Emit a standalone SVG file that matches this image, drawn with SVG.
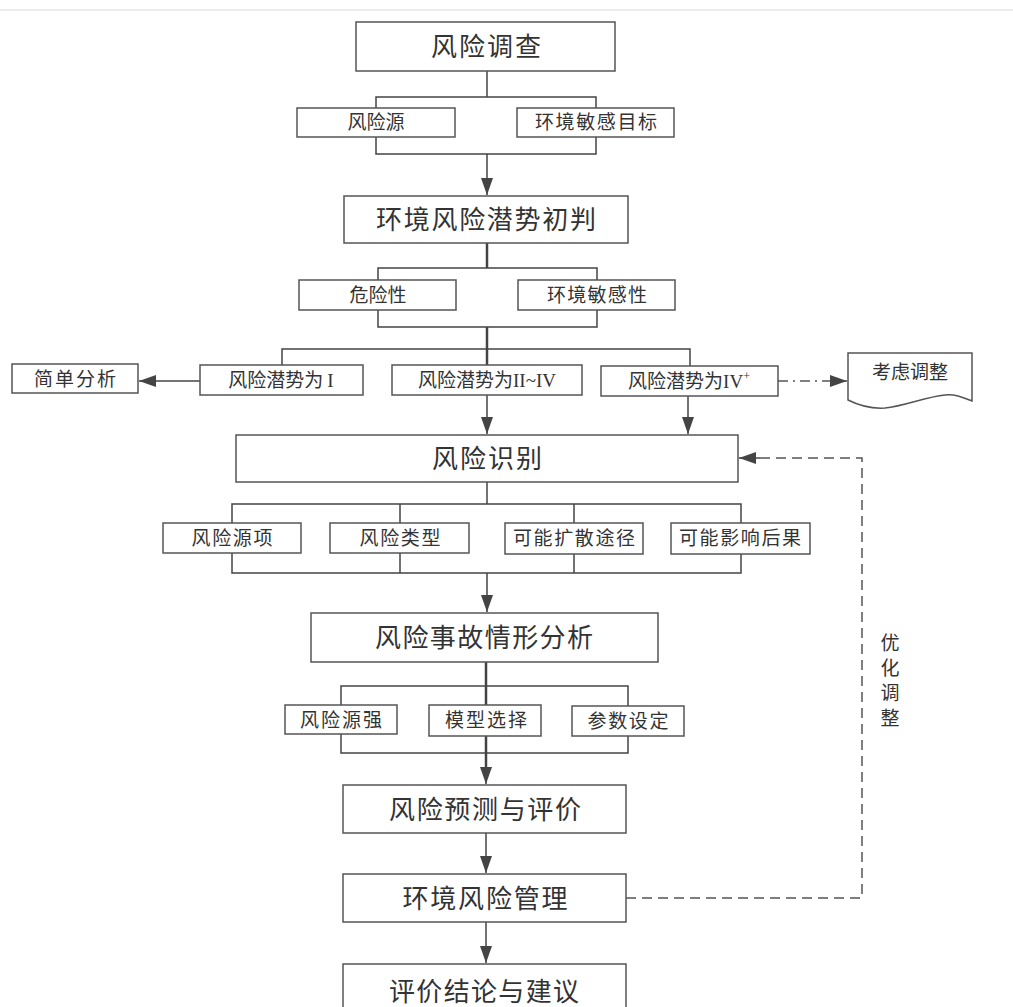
<svg xmlns="http://www.w3.org/2000/svg" width="1013" height="1007" viewBox="0 0 1013 1007">
<style>
.box{fill:#fff;stroke:#555;stroke-width:1.5}
.t{font-family:"Noto Sans CJK SC","Noto Sans",sans-serif;fill:#333;text-anchor:middle}
.s{font-size:19px}
.m{font-size:26px}
.r{font-family:"Liberation Serif",serif}
.ln{fill:none;stroke:#444;stroke-width:1.5}
.tk{fill:none;stroke:#444;stroke-width:2.5}
.dash{fill:none;stroke:#555;stroke-width:1.5;stroke-dasharray:10 6}
.dd{fill:none;stroke:#555;stroke-width:1.3;stroke-dasharray:10 5 2 5}
</style>
<defs>
<marker id="ah" markerUnits="userSpaceOnUse" markerWidth="18" markerHeight="12" refX="17" refY="6" orient="auto">
<path d="M0,0 L17,6 L0,12 z" fill="#444"/>
</marker>
</defs>
<rect width="1013" height="1007" fill="#fff"/>
<line x1="0" y1="10" x2="1013" y2="10" stroke="#e6e6e6" stroke-width="1.5"/>

<g id="connectors">
<!-- 风险调查 -->
<path class="ln" d="M487,71 V97 M376,108 V97 H596 V108"/>
<path class="ln" d="M376,137 V154 H596 V137"/>
<path class="ln" d="M487,154 V195" marker-end="url(#ah)"/>
<!-- 初判 -->
<path class="tk" d="M487,243 V268"/>
<path class="ln" d="M378,280 V268 H597 V280"/>
<path class="ln" d="M378,310 V327 H597 V310"/>
<path class="tk" d="M487,327 V365"/>
<path class="ln" d="M282,365 V349 H690 V366"/>
<path class="ln" d="M200,381 H139" marker-end="url(#ah)"/>
<path class="dd" d="M778,381 H847" marker-end="url(#ah)"/>
<path class="ln" d="M487,395 V434" marker-end="url(#ah)"/>
<path class="ln" d="M688,396 V434" marker-end="url(#ah)"/>
<!-- 识别 -->
<path class="ln" d="M487,482 V504"/>
<path class="ln" d="M232,523 V504 H741 V523 M400,504 V523 M574,504 V523"/>
<path class="ln" d="M232,553 V573 H741 V553 M400,553 V573 M574,553 V573"/>
<path class="ln" d="M487,573 V612" marker-end="url(#ah)"/>
<!-- 情形分析 -->
<path class="tk" d="M486,662 V705"/>
<path class="ln" d="M341,705 V686 H628 V706"/>
<path class="ln" d="M341,734 V753 H628 V736"/>
<path class="tk" d="M486,736 V770"/>
<path class="ln" d="M486,765 V784" marker-end="url(#ah)"/>
<path class="ln" d="M486,833 V873" marker-end="url(#ah)"/>
<path class="ln" d="M486,922 V963" marker-end="url(#ah)"/>
<!-- feedback -->
<path class="dash" d="M626,898 H862 V458 H757"/>
<path class="ln" d="M760,458 H739" marker-end="url(#ah)"/>
</g>

<g id="n1"><rect class="box" x="356" y="22" width="259" height="49"/><text class="t m" x="486" y="56" textLength="110" lengthAdjust="spacing">风险调查</text></g>
<g id="n2"><rect class="box" x="297" y="108" width="158" height="29"/><text class="t s" x="376" y="129">风险源</text></g>
<g id="n3"><rect class="box" x="517" y="108" width="157" height="29"/><text class="t s" x="596" y="129" textLength="122" lengthAdjust="spacing">环境敏感目标</text></g>
<g id="n4"><rect class="box" x="344" y="196" width="284" height="47"/><text class="t m" x="486" y="229" textLength="220" lengthAdjust="spacing">环境风险潜势初判</text></g>
<g id="n5"><rect class="box" x="299" y="280" width="157" height="30"/><text class="t s" x="378" y="302">危险性</text></g>
<g id="n6"><rect class="box" x="518" y="280" width="157" height="30"/><text class="t s" x="597" y="302" textLength="100" lengthAdjust="spacing">环境敏感性</text></g>
<g id="n7"><rect class="box" x="12" y="364" width="126" height="29"/><text class="t s" x="75" y="386" textLength="82" lengthAdjust="spacing">简单分析</text></g>
<g id="n8"><rect class="box" x="200" y="365" width="163" height="30"/><text class="t s" x="281" y="387">风险潜势为<tspan class="r" dx="4">I</tspan></text></g>
<g id="n9"><rect class="box" x="392" y="365" width="190" height="30"/><text class="t s" x="487" y="387">风险潜势为<tspan class="r">II~IV</tspan></text></g>
<g id="n10"><rect class="box" x="601" y="366" width="177" height="30"/><text class="t s" x="689" y="388">风险潜势为<tspan class="r">IV</tspan><tspan class="r" font-size="12" dy="-8">+</tspan></text></g>
<g id="n11"><path class="box" d="M848,353 H972 V401 C962,397 955,394 945,395 C925,397 905,406 885,408 C870,409 858,405 848,400 Z"/><text class="t s" x="910" y="379">考虑调整</text></g>
<g id="n12"><rect class="box" x="236" y="435" width="502" height="47"/><text class="t m" x="487" y="468" textLength="110" lengthAdjust="spacing">风险识别</text></g>
<g id="n13"><rect class="box" x="163" y="523" width="138" height="30"/><text class="t s" x="232" y="545" textLength="81" lengthAdjust="spacing">风险源项</text></g>
<g id="n14"><rect class="box" x="330" y="523" width="139" height="30"/><text class="t s" x="400" y="545" textLength="81" lengthAdjust="spacing">风险类型</text></g>
<g id="n15"><rect class="box" x="505" y="523" width="138" height="31"/><text class="t s" x="574" y="545" textLength="122" lengthAdjust="spacing">可能扩散途径</text></g>
<g id="n16"><rect class="box" x="671" y="523" width="139" height="31"/><text class="t s" x="740" y="545" textLength="122" lengthAdjust="spacing">可能影响后果</text></g>
<g id="n17"><rect class="box" x="311" y="613" width="347" height="49"/><text class="t m" x="484" y="647" textLength="218" lengthAdjust="spacing">风险事故情形分析</text></g>
<g id="n18"><rect class="box" x="285" y="705" width="112" height="29"/><text class="t s" x="341" y="727" textLength="82" lengthAdjust="spacing">风险源强</text></g>
<g id="n19"><rect class="box" x="429" y="705" width="112" height="31"/><text class="t s" x="486" y="727" textLength="82" lengthAdjust="spacing">模型选择</text></g>
<g id="n20"><rect class="box" x="572" y="706" width="112" height="30"/><text class="t s" x="628" y="728" textLength="81" lengthAdjust="spacing">参数设定</text></g>
<g id="n21"><rect class="box" x="343" y="785" width="283" height="48"/><text class="t m" x="485" y="819" textLength="192" lengthAdjust="spacing">风险预测与评价</text></g>
<g id="n22"><rect class="box" x="343" y="874" width="283" height="48"/><text class="t m" x="485" y="908" textLength="165" lengthAdjust="spacing">环境风险管理</text></g>
<g id="n23"><rect class="box" x="343" y="964" width="283" height="50"/><text class="t m" x="484" y="1001" textLength="190" lengthAdjust="spacing">评价结论与建议</text></g>
<g id="label-feedback"><text class="t s" x="890" y="650">优</text><text class="t s" x="890" y="675">化</text><text class="t s" x="890" y="700">调</text><text class="t s" x="890" y="725">整</text></g>
</svg>
